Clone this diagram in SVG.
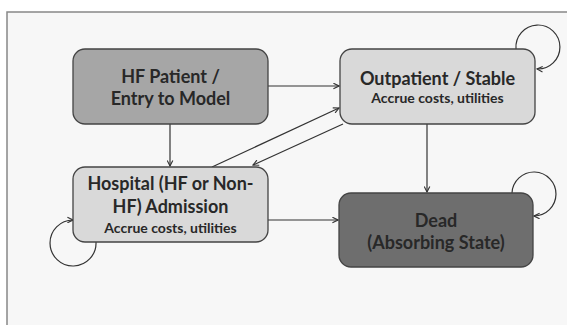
<svg xmlns="http://www.w3.org/2000/svg" width="567" height="325" viewBox="0 0 567 325">
<defs>
<marker id="ah" viewBox="0 0 10 10" refX="9" refY="5" markerWidth="7" markerHeight="7" markerUnits="userSpaceOnUse" orient="auto">
<path d="M1,1 L9,5 L1,9" fill="none" stroke="#333" stroke-width="1.6"/>
</marker>
<style>
.box{stroke:#444;stroke-width:1.3}
.t{font-family:Lato,"Open Sans","Liberation Sans",sans-serif;font-weight:bold;fill:#282828;text-anchor:middle}
.h{font-size:18px}
.s{font-size:14px}
.c{fill:none;stroke:#333;stroke-width:1.2;marker-end:url(#ah)}
</style>
</defs>
<rect x="0" y="0" width="567" height="325" fill="#fff"/>
<rect x="7" y="12" width="580" height="330" fill="#f7f7f7" stroke="#888" stroke-width="1.5"/>
<g id="connectors">
<path class="c" d="M268,86 L339,86"/>
<path class="c" d="M170,124 L170,166"/>
<path class="c" d="M212,167 L339,108"/>
<path class="c" d="M343,124 L253,165"/>
<path class="c" d="M427,124 L427,192"/>
<path class="c" d="M268,220 L338,220"/>
<path class="c" d="M516,49 A22,22 0 1 1 537,69"/>
<path class="c" d="M512,193 A22,22 0 1 1 534,216"/>
<path class="c" d="M96,242 A23,23 0 1 1 73,220"/>
</g>
<g id="hf-patient">
<rect class="box" x="73" y="49" width="195" height="75" rx="12" fill="#a6a6a6"/>
<text class="t h" x="170.5" y="83">HF Patient /</text>
<text class="t h" x="170.5" y="105">Entry to Model</text>
</g>
<g id="outpatient">
<rect class="box" x="340" y="49" width="195" height="75" rx="12" fill="#d9d9d9"/>
<text class="t h" x="437.5" y="85">Outpatient / Stable</text>
<text class="t s" x="437.5" y="103">Accrue costs, utilities</text>
</g>
<g id="hospital">
<rect class="box" x="73" y="167" width="195" height="75" rx="12" fill="#d9d9d9"/>
<text class="t h" x="170.5" y="190">Hospital (HF or Non-</text>
<text class="t h" x="170.5" y="213">HF) Admission</text>
<text class="t s" x="170.5" y="233">Accrue costs, utilities</text>
</g>
<g id="dead">
<rect class="box" x="339" y="193" width="194" height="74" rx="12" fill="#6e6e6e"/>
<text class="t h" x="436" y="227">Dead</text>
<text class="t h" x="436" y="249">(Absorbing State)</text>
</g>
</svg>
